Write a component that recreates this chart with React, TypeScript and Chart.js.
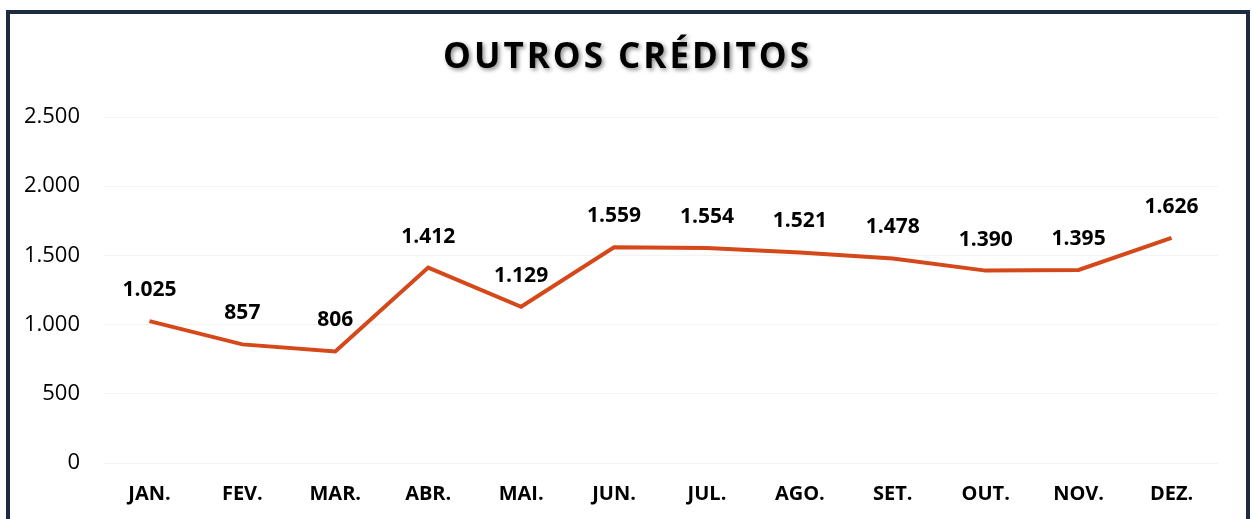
import React, { useEffect, useRef } from "react";
import { Chart, registerables } from "chart.js";

Chart.register(...registerables);

const TITLE = "OUTROS CRÉDITOS";
const MONTHS = ["JAN.", "FEV.", "MAR.", "ABR.", "MAI.", "JUN.", "JUL.", "AGO.", "SET.", "OUT.", "NOV.", "DEZ."];
const VALUES = [1025, 857, 806, 1412, 1129, 1559, 1554, 1521, 1478, 1390, 1395, 1626];
const Y_MIN = 0;
const Y_MAX = 2500;
const Y_STEP = 500;

const FONT = "'Open Sans', 'Noto Sans', 'DejaVu Sans', sans-serif";
const LINE_COLOR = "#D4481A";

const fmt = (v: number) => Math.round(v).toString().replace(/\B(?=(\d{3})+(?!\d))/g, ".");

const titlePlugin = {
  id: "customTitle",
  afterDraw(chart: any) {
    const ctx = chart.ctx as CanvasRenderingContext2D;
    ctx.save();
    ctx.font = `bold 35px ${FONT}`;
    (ctx as any).letterSpacing = "3px";
    ctx.textAlign = "center";
    ctx.textBaseline = "middle";
    ctx.shadowColor = "rgba(0,0,0,0.45)";
    ctx.shadowBlur = 4;
    ctx.shadowOffsetX = 2;
    ctx.shadowOffsetY = 2;
    ctx.fillStyle = "#000";
    ctx.fillText(TITLE, chart.width / 2 + 1.5, 58);
    ctx.restore();
  },
};

const labelPlugin = {
  id: "valueLabels",
  afterDatasetsDraw(chart: any) {
    const ctx = chart.ctx as CanvasRenderingContext2D;
    const meta = chart.getDatasetMeta(0);
    ctx.save();
    ctx.font = `bold 21px ${FONT}`;
    ctx.fillStyle = "#000";
    ctx.textAlign = "center";
    ctx.textBaseline = "middle";
    meta.data.forEach((pt: any, i: number) => {
      ctx.fillText(fmt(VALUES[i]), pt.x, pt.y - 31);
    });
    ctx.restore();
  },
};

export default function App() {
  const ref = useRef<HTMLCanvasElement>(null);
  useEffect(() => {
    if (!ref.current) return;
    const chart = new Chart(ref.current, {
      type: "line",
      data: {
        labels: MONTHS,
        datasets: [
          {
            data: VALUES,
            borderColor: LINE_COLOR,
            backgroundColor: LINE_COLOR,
            borderWidth: 4,
            pointRadius: 0,
            tension: 0,
            fill: false,
          },
        ],
      },
      options: {
        animation: false,
        responsive: false,
        maintainAspectRatio: false,
        layout: { padding: { top: 117, right: 34, left: 0, bottom: 0 } },
        plugins: {
          legend: { display: false },
          title: { display: false },
          tooltip: { enabled: false },
        },
        scales: {
          x: {
            offset: true,
            grid: { display: false, drawTicks: false },
            border: { display: false },
            ticks: {
              color: "#000",
              font: { family: FONT, size: 20, weight: "bold" },
              padding: 19,
              maxRotation: 0,
              autoSkip: false,
            },
            afterFit(scale: any) {
              scale.height = 56;
            },
          },
          y: {
            min: Y_MIN,
            max: Y_MAX,
            grid: { color: "#f3f3f3", lineWidth: 1, drawTicks: false },
            border: { display: false },
            ticks: {
              stepSize: Y_STEP,
              color: "#000",
              font: { family: FONT, size: 22 },
              padding: 23,
              callback: (v: any) => fmt(Number(v)),
            },
            afterFit(scale: any) {
              scale.width = 103;
            },
          },
        },
      },
      plugins: [labelPlugin, titlePlugin],
    });
    return () => chart.destroy();
  }, []);

  return (
    <div
      style={{
        position: "fixed",
        left: 0,
        top: 0,
        width: 1252,
        height: 519,
        background: "#fff",
        overflow: "hidden",
      }}
    >
      <div
        style={{
          position: "absolute",
          left: 6,
          top: 10,
          width: 1236,
          height: 540,
          border: "4px solid #1C2B40",
        }}
      />
      <canvas
        ref={ref}
        width={1252}
        height={519}
        style={{ position: "absolute", left: 0, top: 0, width: 1252, height: 519 }}
      />
    </div>
  );
}
